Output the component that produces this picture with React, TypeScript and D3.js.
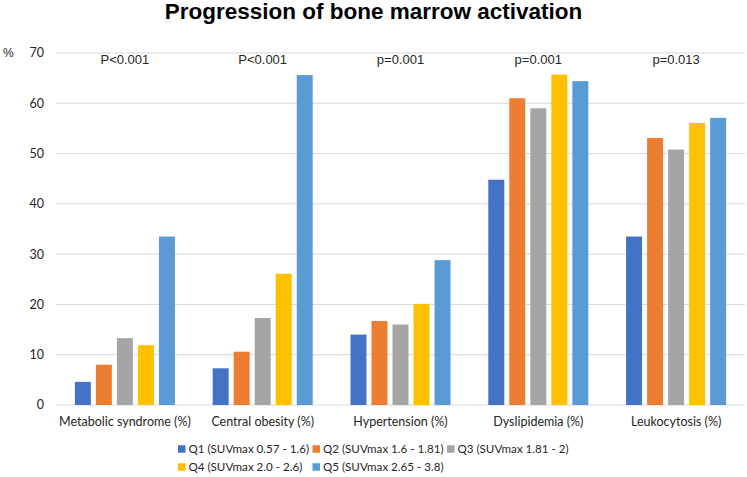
import React from "react";
import * as d3 from "d3";

const categories = [
  "Metabolic syndrome (%)",
  "Central obesity (%)",
  "Hypertension (%)",
  "Dyslipidemia (%)",
  "Leukocytosis (%)",
];
const seriesNames = [
  "Q1 (SUVmax 0.57 - 1.6)",
  "Q2 (SUVmax 1.6 - 1.81)",
  "Q3 (SUVmax 1.81 - 2)",
  "Q4 (SUVmax 2.0 - 2.6)",
  "Q5 (SUVmax 2.65 - 3.8)",
];
const q1 = [4.6, 7.3, 14.0, 44.8, 33.5];
const q2 = [8.0, 10.6, 16.7, 61.0, 53.1];
const q3 = [13.3, 17.3, 16.0, 59.0, 50.8];
const q4 = [11.9, 26.1, 20.1, 65.7, 56.1];
const q5 = [33.5, 65.6, 28.8, 64.4, 57.1];
const pValues = ["P<0.001", "P<0.001", "p=0.001", "p=0.001", "p=0.013"];
const yTicks = [0, 10, 20, 30, 40, 50, 60, 70];
const colors = ["#4472C4", "#ED7D31", "#A5A5A5", "#FFC000", "#5B9BD5"];

const seriesValues = [q1, q2, q3, q4, q5];

const W = 747;
const H = 477;
const plotLeft = 56;
const plotRight = 745;
const plotTop = 53;
const plotBottom = 405;

export default function App() {
  const x0 = d3
    .scaleBand<string>()
    .domain(categories)
    .range([plotLeft, plotRight])
    .paddingInner(0.274)
    .paddingOuter(0.137);
  const x1 = d3
    .scaleBand<string>()
    .domain(seriesNames)
    .range([0, x0.bandwidth()])
    .paddingInner(0.24);
  const y = d3.scaleLinear().domain([0, 70]).range([plotBottom, plotTop]);

  const legendCols = 3;
  const colW = 134.5;
  const legendLeft = 178;
  const legendRow0 = 449;
  const legendRowH = 18;

  return (
    <div style={{ position: "fixed", left: 0, top: 0 }}>
      <svg width={W} height={H} style={{ display: "block", background: "#fff" }}>
        <rect width={W} height={H} fill="#fff" />
        <text
          x={373.5}
          y={19}
          textAnchor="middle"
          fontFamily="'Liberation Sans', Arial, sans-serif"
          fontWeight="bold"
          fontSize={22.5}
          fill="#000"
        >
          Progression of bone marrow activation
        </text>
        {yTicks.map((t) => (
          <g key={t}>
            <line
              x1={plotLeft}
              x2={plotRight}
              y1={y(t)}
              y2={y(t)}
              stroke="#D9D9D9"
              strokeWidth={1}
            />
            <text
              x={44}
              y={y(t)}
              dy="0.35em"
              textAnchor="end"
              fontFamily="Lato, sans-serif"
              fontSize={12.5}
              fill="#262626"
            >
              {t}
            </text>
          </g>
        ))}
        <text
          x={3}
          y={y(70)}
          dy="0.35em"
          fontFamily="'Liberation Sans', Arial, sans-serif"
          fontSize={12}
          fill="#262626"
        >
          %
        </text>
        {categories.map((c, ci) => (
          <g key={c} transform={`translate(${x0(c)},0)`}>
            {seriesNames.map((s, si) => {
              const v = seriesValues[si][ci];
              return (
                <rect
                  key={s}
                  x={x1(s)}
                  y={y(v)}
                  width={x1.bandwidth()}
                  height={y(0) - y(v)}
                  fill={colors[si]}
                />
              );
            })}
            <text
              x={x0.bandwidth() / 2}
              y={426}
              textAnchor="middle"
              fontFamily="Lato, sans-serif"
              fontSize={12.5}
              fill="#262626"
            >
              {c}
            </text>
            <text
              x={x0.bandwidth() / 2}
              y={64}
              textAnchor="middle"
              fontFamily="'Liberation Sans', Arial, sans-serif"
              fontSize={13}
              fill="#262626"
            >
              {pValues[ci]}
            </text>
          </g>
        ))}
        {seriesNames.map((s, si) => {
          const col = si % legendCols;
          const row = Math.floor(si / legendCols);
          const lx = legendLeft + col * colW;
          const ly = legendRow0 + row * legendRowH;
          return (
            <g key={s} transform={`translate(${lx},${ly})`}>
              <rect x={0} y={-3.75} width={7.5} height={7.5} fill={colors[si]} />
              <text
                x={10.5}
                y={0}
                dy="0.35em"
                fontFamily="Lato, sans-serif"
                fontSize={11.6}
                fill="#262626"
              >
                {s}
              </text>
            </g>
          );
        })}
      </svg>
    </div>
  );
}
